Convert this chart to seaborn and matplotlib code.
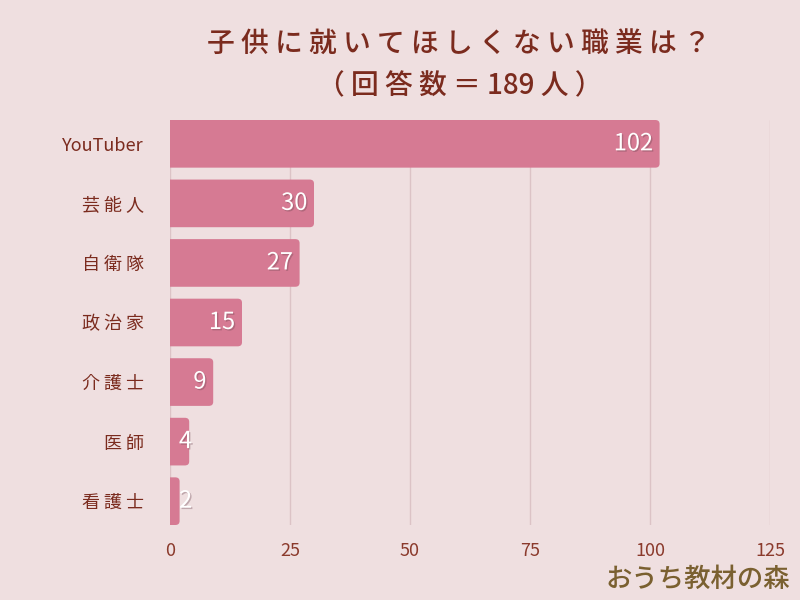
import matplotlib
matplotlib.use("Agg")
import matplotlib.pyplot as plt
import matplotlib.patheffects as pe
from matplotlib.patches import FancyBboxPatch
import pandas as pd
import seaborn as sns

# ── Data ──────────────────────────────────────────────────────────────────────
jobs = ["YouTuber", "芸能人", "自衛隊", "政治家", "介護士", "医師", "看護士"]
counts = [102, 30, 27, 15, 9, 4, 2]
x_ticks = [0, 25, 50, 75, 100, 125]
title = "子供に就いてほしくない職業は？\n（回答数＝189人）"
watermark = "おうち教材の森"

BG = "#efdfe0"
BAR = "#d67a93"
TEXT = "#7b2b1e"
GRID = "#dcc3c6"

sns.set_theme(style="white")
plt.rcParams["font.family"] = ["Noto Sans CJK JP", "DejaVu Sans"]


def spaced(s):
    # the reference font is set very loose: open up gaps around wide glyphs,
    # keep runs of ascii (digits, latin) together
    out = ""
    for i, ch in enumerate(s):
        if i > 0 and not (ch.isascii() and s[i - 1].isascii()):
            out += " "
        out += ch
    return out


df = pd.DataFrame({"job": jobs, "count": counts})

fig = plt.figure(figsize=(8, 6), dpi=100, facecolor=BG)
ax = fig.add_axes([0.2125, 0.125, 0.75, 0.675], facecolor=BG)

sns.barplot(data=df, y="job", x="count", orient="h", color=BAR,
            width=0.8, saturation=1, ax=ax)

# swap the flat bars for ones with rounded ends
for patch in list(ax.patches):
    x0, y0 = patch.get_x(), patch.get_y()
    w, h = patch.get_width(), patch.get_height()
    patch.remove()
    ax.add_patch(FancyBboxPatch(
        (x0 - 2, y0), w + 2, h,
        boxstyle="round,pad=0,rounding_size=0.9",
        mutation_aspect=0.075, facecolor=BAR, edgecolor="none",
        clip_on=True, zorder=2,
    ))

ax.set_xlim(0, 125)
ax.set_ylim(len(jobs) - 0.6, -0.4)
ax.set_xticks(x_ticks)
ax.set_xticklabels([str(t) for t in x_ticks], color="#8b3a2c", fontsize=13)
ax.set_yticks(range(len(jobs)))
ax.set_yticklabels([spaced(j) for j in jobs], color=TEXT, fontsize=13)
ax.tick_params(axis="both", length=0)
ax.tick_params(axis="y", pad=19)
ax.tick_params(axis="x", pad=12)
ax.set_xlabel("")
ax.set_ylabel("")
ax.grid(axis="x", color=GRID, linewidth=1, zorder=0)
ax.set_axisbelow(True)
for s in ax.spines.values():
    s.set_visible(False)

shadow = [pe.SimplePatchShadow(offset=(1, -1), shadow_rgbFace="#6b4450", alpha=0.35),
          pe.Normal()]
for i, v in enumerate(counts):
    xr = max(v - 1.4, 4.6)
    ax.text(xr, i, str(v), ha="right", va="center", color="white",
            fontsize=17, path_effects=shadow, zorder=3)

t1, t2 = title.split("\n")
fig.text(0.573, 0.928, spaced(t1), ha="center", va="center", color=TEXT,
         fontsize=20, fontweight="medium")
fig.text(0.575, 0.857, spaced(t2), ha="center", va="center", color=TEXT,
         fontsize=20, fontweight="medium")

fig.text(0.988, 0.035, watermark, ha="right", va="center", color="#7a6030",
         fontsize=19, fontweight="medium")

fig.savefig("out.png", dpi=100, facecolor=BG)
